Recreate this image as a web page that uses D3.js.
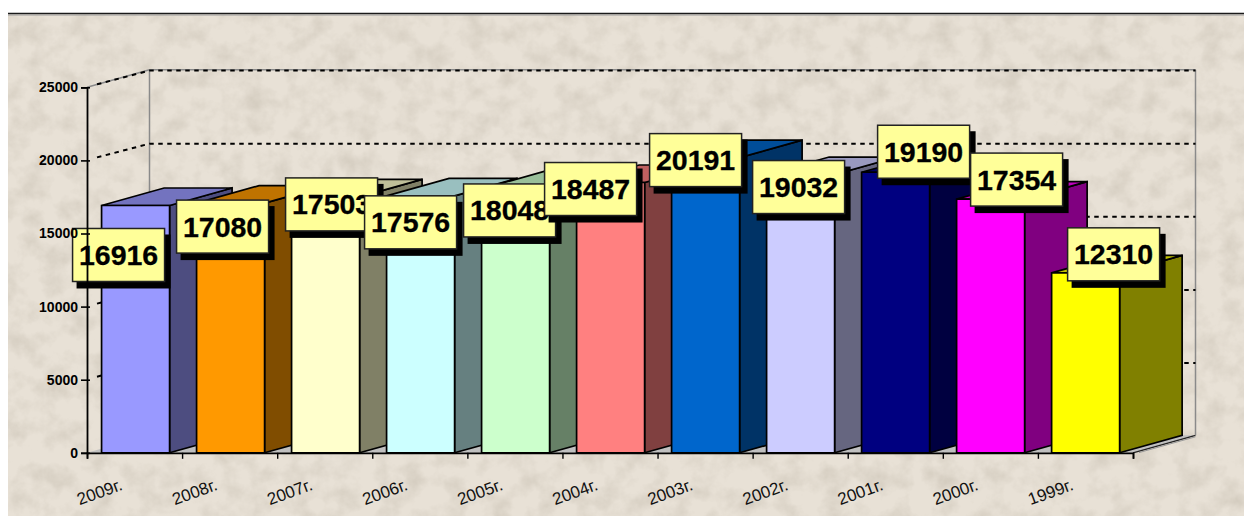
<!DOCTYPE html>
<html><head><meta charset="utf-8">
<script src="https://cdn.jsdelivr.net/npm/d3@7"></script>
<style>
html,body{margin:0;padding:0;background:#fff;overflow:hidden}
svg{display:block}
text{font-family:"Liberation Sans",Arial,sans-serif}
</style></head><body>
<script>
const categories=["2009г.","2008г.","2007г.","2006г.","2005г.","2004г.","2003г.","2002г.","2001г.","2000г.","1999г."];
const values=[16916,17080,17503,17576,18048,18487,20191,19032,19190,17354,12310];
const frontColors=["#9999FF","#FF9900","#FFFFCC","#CCFFFF","#CCFFCC","#FF8080","#0066CC","#CCCCFF","#000080","#FF00FF","#FFFF00"];
const yTicks=[0,5000,10000,15000,20000,25000];
// hand-placed callouts: offset of each label box from its bar's front top-left corner
const labelDx=[-29,-20,-6,-22,-18,-32,-22,-14,16,14,16];
const labelDy=[23,-3,-19,0,-5,-20,-24,-14,-47,-46,-45];

const W=1244,H=518,depthX=62.5,depthY=-17.5,boxW=92,boxH=53;
const svg=d3.select("body").append("svg").attr("width",W).attr("height",H);
const defs=svg.append("defs");
const f=defs.append("filter").attr("id","paper").attr("x",0).attr("y",0).attr("width","100%").attr("height","100%");
f.append("feTurbulence").attr("type","fractalNoise").attr("baseFrequency",0.045).attr("numOctaves",5).attr("seed",11);
f.append("feColorMatrix").attr("type","matrix").attr("values","0 0 0 0 .55  0 0 0 0 .50  0 0 0 0 .42  1.0 0 0 0 -0.40");

// paper
svg.append("rect").attr("x",8).attr("y",13).attr("width",W-8).attr("height",H-15).attr("fill","#E8E1D6");
svg.append("rect").attr("x",8).attr("y",13).attr("width",W-8).attr("height",H-15).attr("fill","#000").attr("filter","url(#paper)");
svg.append("line").attr("x1",8).attr("x2",W).attr("y1",13.5).attr("y2",13.5).attr("stroke","#1a1a1a").attr("stroke-width",1.6);
svg.append("line").attr("x1",8).attr("x2",W).attr("y1",15).attr("y2",15).attr("stroke","#999").attr("stroke-width",1);

const y=d3.scaleLinear().domain([0,25000]).range([452.8,87.3]);
const x=d3.scaleBand().domain(categories).range([87.6,1133.6]).paddingInner(0.284).paddingOuter(0.147);
const xTick=d3.scalePoint().domain([...categories,""]).range([87,1133]);
const x0=87,x1=1133,y0=y(0);
const pts=a=>a.map(p=>p.join(",")).join(" ");

// floor
svg.append("polygon").attr("points",pts([[x0,y0],[x0+depthX,y0+depthY],[x1+depthX,y0+depthY],[x1,y0]]))
  .attr("fill","#C0C0C0").attr("stroke","none");
svg.append("line").attr("x1",x1).attr("y1",y0).attr("x2",x1+depthX).attr("y2",y0+depthY).attr("stroke","#222").attr("stroke-width",1.2);
svg.append("line").attr("x1",x1+6).attr("y1",y0-.2).attr("x2",x1+depthX).attr("y2",y0+depthY+1.5).attr("stroke","#999").attr("stroke-width",1);

// walls
const wall=svg.append("g").attr("fill","none").attr("stroke","#8a8a8a").attr("stroke-width",1.5);
wall.append("line").attr("x1",x0+depthX).attr("x2",x0+depthX).attr("y1",y(25000)+depthY).attr("y2",y0+depthY);
wall.append("line").attr("x1",x1+depthX).attr("x2",x1+depthX).attr("y1",y(25000)+depthY).attr("y2",y0+depthY);
wall.append("line").attr("x1",x0+depthX).attr("x2",x1+depthX).attr("y1",y(25000)+depthY).attr("y2",y(25000)+depthY);
wall.append("line").attr("x1",x0).attr("x2",x0+depthX).attr("y1",y(25000)).attr("y2",y(25000)+depthY);

// grid
const grid=svg.append("g").attr("fill","none").attr("stroke","#000").attr("stroke-width",2).attr("stroke-dasharray","4.5 4.5");
yTicks.filter(d=>d>0).forEach(d=>{
  grid.append("polyline").attr("points",pts([[x0+10,y(d)-3],[x0+depthX,y(d)+depthY+.8],[x1+depthX,y(d)+depthY+.8]]));
});

// bars
const bars=svg.append("g").selectAll("g").data(categories).join("g");
bars.each(function(c,i){
  const g=d3.select(this),l=x(c),r=l+x.bandwidth(),t=y(values[i]),col=d3.rgb(frontColors[i]);
  const shade=k=>d3.rgb(col.r*k,col.g*k,col.b*k).formatHex();
  const st={stroke:"#000","stroke-width":1.7,"stroke-linejoin":"miter"};
  const add=(p,fill)=>{const e=g.append("polygon").attr("points",pts(p)).attr("fill",fill);Object.entries(st).forEach(([k,v])=>e.attr(k,v));};
  add([[r,y0],[r+depthX,y0+depthY],[r+depthX,t+depthY],[r,t]],shade(.5));
  add([[l,t],[l+depthX,t+depthY],[r+depthX,t+depthY],[r,t]],shade(.75));
  add([[l,y0],[r,y0],[r,t],[l,t]],col.formatHex());
});

// x axis
const xa=svg.append("g").attr("transform",`translate(0,${y0})`).call(d3.axisBottom(xTick).tickSize(6).tickFormat(d=>d));
xa.select(".domain").attr("stroke","#000").attr("stroke-width",1.8);
xa.selectAll(".tick line").attr("stroke","#000").attr("stroke-width",1.4);
xa.selectAll("text").style("font-size","17px").attr("fill","#111").attr("font-family",'"Liberation Sans"')
  .attr("text-anchor","middle").attr("dy","0.35em").attr("y",0)
  .attr("transform","translate(12,39) rotate(-20)");

// callouts
const labels=svg.append("g").selectAll("g").data(categories).join("g")
  .attr("transform",(c,i)=>`translate(${x(c)+labelDx[i]},${y(values[i])+labelDy[i]})`);
labels.append("rect").attr("x",4).attr("y",6).attr("width",boxW+2).attr("height",boxH+1).attr("fill","#000");
labels.append("rect").attr("width",boxW).attr("height",boxH).attr("fill","#FFFF99").attr("stroke","#222").attr("stroke-width",1.5);
labels.append("text").attr("x",boxW/2).attr("y",boxH/2+10).attr("text-anchor","middle")
  .style("font-size","28.5px").attr("font-weight","bold").attr("fill","#000").attr("stroke","#000").attr("stroke-width",0.3).text((c,i)=>values[i]);

// y axis stays above the callouts, as in the original
const ya=svg.append("g").attr("transform",`translate(${x0},0)`).call(d3.axisLeft(y).tickValues(yTicks).tickSize(6).tickPadding(3).tickFormat(d3.format("d")));
ya.select(".domain").attr("stroke","#000").attr("stroke-width",1.8);
ya.selectAll(".tick line").attr("stroke","#000").attr("stroke-width",1.6).attr("x2",-6).attr("x1",3);
ya.selectAll("text").style("font-size","14px").attr("font-weight","bold").attr("fill","#000").attr("font-family",'"Liberation Sans"');
</script></body></html>
